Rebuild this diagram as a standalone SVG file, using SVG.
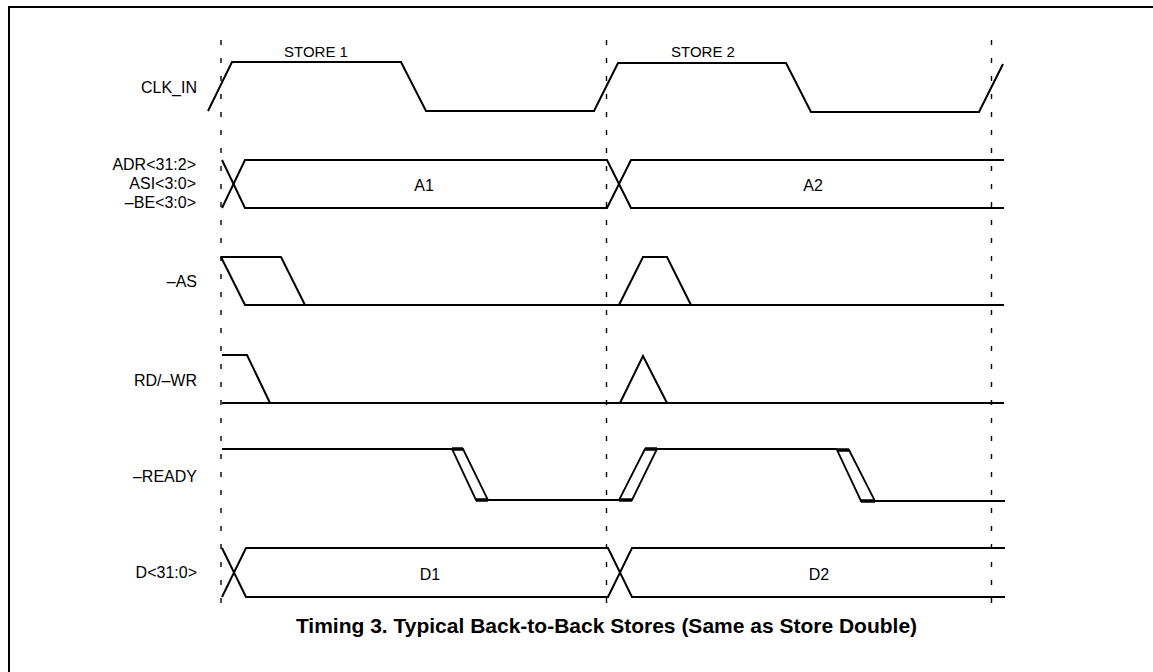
<svg xmlns="http://www.w3.org/2000/svg" width="1153" height="672" viewBox="0 0 1153 672">
<style>
text{font-family:"Liberation Sans",Arial,Helvetica,sans-serif;fill:#000}
.lbl{font-size:16px;text-anchor:end}
.val{font-size:16px;text-anchor:middle}
.sig{fill:none;stroke:#000;stroke-width:2;stroke-linejoin:miter}
.stub{fill:none;stroke:#000;stroke-width:3.5}
.edge{fill:#fff;stroke:#000;stroke-width:1.8}
.guide{fill:none;stroke:#000;stroke-width:1.4;stroke-dasharray:5 13}
.cap{font-size:21px;font-weight:bold;text-anchor:middle}
</style>
<rect x="0" y="0" width="1153" height="672" fill="#fff"/>
<g id="frame">
<path d="M9,672 V7 H1153" fill="none" stroke="#000" stroke-width="2"/>
</g>
<g id="guides">
<line class="guide" x1="221" y1="40" x2="221" y2="614"/>
<line class="guide" x1="606.5" y1="40" x2="606.5" y2="614"/>
<line class="guide" x1="991.5" y1="40" x2="991.5" y2="614"/>
</g>
<g id="clk_in">
<text class="lbl" x="197" y="93">CLK_IN</text>
<text class="val" x="316" y="57" style="font-size:15px">STORE 1</text>
<text class="val" x="703" y="57" style="font-size:15px">STORE 2</text>
<path class="sig" d="M208,111 L232,62 H401 L426,111 H594 L618,63 H786 L811,112 H979 L1003,64"/>
</g>
<g id="adr">
<text class="lbl" x="196" y="170">ADR&lt;31:2&gt;</text>
<text class="lbl" x="196" y="189">ASI&lt;3:0&gt;</text>
<text class="lbl" x="196" y="208">–BE&lt;3:0&gt;</text>
<path class="sig" d="M222,160 L245,208 H607 L631,160 H1004 M222,208 L245,160 H607 L631,208 H1004"/>
<text class="val" x="424" y="191">A1</text>
<text class="val" x="813" y="191">A2</text>
</g>
<g id="as">
<text class="lbl" x="197" y="287">–AS</text>
<path class="sig" d="M221,257 H281 L305,305 M221,257 L245,305 H1004 M619,305 L643,257 H667 L691,305"/>
</g>
<g id="rdwr">
<text class="lbl" x="197" y="386">RD/–WR</text>
<path class="sig" d="M222,355 H247 L270,403 M222,403 H1004 M620,403 L643,356 L667,403"/>
</g>
<g id="ready">
<text class="lbl" x="197" y="482">–READY</text>
<path class="sig" d="M222,449 H453 M476,500 H619 M645,449 H837 M860,501 H1005"/>
<polygon class="edge" points="452,449 463,449 488,500 476,500"/>
<polygon class="edge" points="619,500 632,500 657,449 645,449"/>
<polygon class="edge" points="837,450 849,450 875,501 861,501"/>
<path class="stub" d="M452,449 H463 M476,500 H488 M619,500 H632 M645,449 H657 M837,450 H849 M861,501 H875"/>
</g>
<g id="data">
<text class="lbl" x="197" y="578">D&lt;31:0&gt;</text>
<path class="sig" d="M222,548 L246,597 H608 L632,548 H1005 M222,597 L246,548 H608 L632,597 H1005"/>
<text class="val" x="430" y="580">D1</text>
<text class="val" x="819" y="580">D2</text>
</g>
<g id="caption">
<text class="cap" x="606.5" y="633">Timing 3. Typical Back-to-Back Stores (Same as Store Double)</text>
</g>
</svg>
